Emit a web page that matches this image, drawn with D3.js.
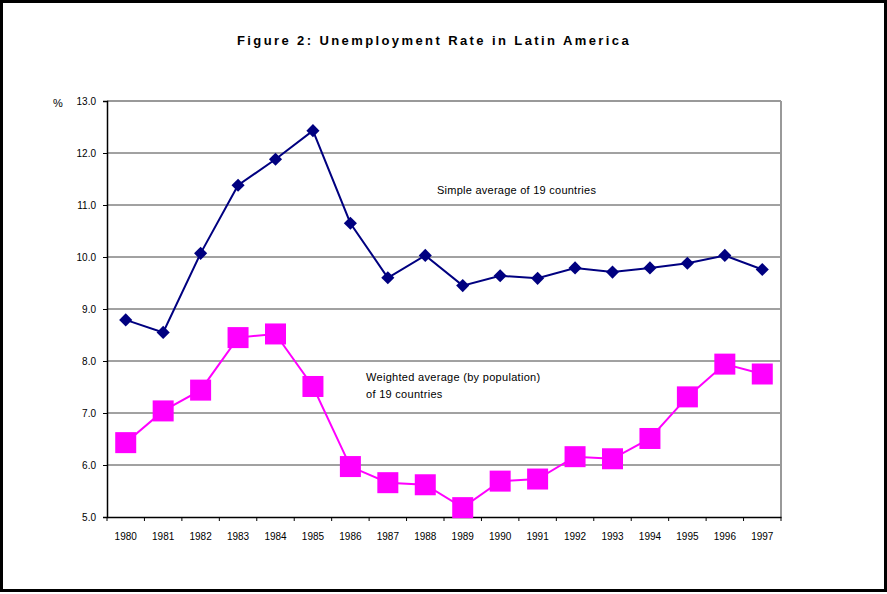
<!DOCTYPE html>
<html>
<head>
<meta charset="utf-8">
<script src="https://cdn.jsdelivr.net/npm/d3@7"></script>
<style>
  body { margin: 0; background: #fff; }
  svg text { font-family: "Liberation Sans", Arial, sans-serif; }
</style>
</head>
<body>
<svg width="887" height="594"></svg>
<script>
var years = ["1980","1981","1982","1983","1984","1985","1986","1987","1988","1989",
             "1990","1991","1992","1993","1994","1995","1996","1997"];
var simpleAvg = [8.79, 8.55, 10.07, 11.38, 11.88, 12.43, 10.65, 9.60, 10.03, 9.45,
                 9.64, 9.59, 9.79, 9.71, 9.79, 9.88, 10.03, 9.76];
var weightedAvg = [6.43, 7.04, 7.44, 8.45, 8.52, 7.51, 5.97, 5.66, 5.62, 5.18,
                   5.69, 5.73, 6.16, 6.12, 6.51, 7.31, 7.94, 7.75];
var yTicks = [5, 6, 7, 8, 9, 10, 11, 12, 13];

var svg = d3.select("svg"),
    width = +svg.attr("width"),
    height = +svg.attr("height");

var plotLeft = 107, plotRight = 781, plotTop = 101, plotBottom = 517;

// outer frame
svg.append("rect")
    .attr("x", 1.5).attr("y", 1.5)
    .attr("width", 884).attr("height", 589)
    .attr("fill", "none").attr("stroke", "#000").attr("stroke-width", 3);

svg.append("text")
    .attr("x", 434).attr("y", 45)
    .attr("text-anchor", "middle")
    .attr("font-size", 13).attr("font-weight", "bold")
    .attr("letter-spacing", 2.4)
    .text("Figure 2: Unemployment Rate in Latin America");

var x = d3.scaleBand().domain(years).range([plotLeft, plotRight]);
var y = d3.scaleLinear().domain([5, 13]).range([plotBottom, plotTop]);

// gridlines
svg.append("g").selectAll("line")
    .data(yTicks.slice(1))
    .enter().append("line")
    .attr("x1", plotLeft).attr("x2", plotRight)
    .attr("y1", d => y(d)).attr("y2", d => y(d))
    .attr("stroke", d => d == 13 ? "#999" : "#444")
    .attr("stroke-width", d => d == 13 ? 2 : 1);

// right border of plot
svg.append("line")
    .attr("x1", plotRight).attr("x2", plotRight)
    .attr("y1", plotTop).attr("y2", plotBottom)
    .attr("stroke", "#999").attr("stroke-width", 2);

// y axis
var yAxis = svg.append("g")
    .attr("transform", "translate(" + plotLeft + ",0)")
    .call(d3.axisLeft(y).tickValues(yTicks).tickFormat(d3.format(".1f")).tickSize(4).tickPadding(7));
yAxis.select(".domain").attr("stroke", "#000").attr("stroke-width", 1.5);
yAxis.selectAll("text").attr("font-size", 10).attr("fill", "#000")
    .attr("font-family", "Liberation Sans, Arial, sans-serif");

svg.append("text")
    .attr("x", 53).attr("y", 107)
    .attr("font-size", 11)
    .text("%");

// x axis
var xAxis = svg.append("g")
    .attr("transform", "translate(0," + plotBottom + ")")
    .call(d3.axisBottom(x).tickSize(0).tickPadding(16));
xAxis.select(".domain").attr("stroke", "#000").attr("stroke-width", 1.5);
xAxis.selectAll("text").attr("font-size", 10).attr("fill", "#000")
    .attr("font-family", "Liberation Sans, Arial, sans-serif");
// ticks between categories
xAxis.selectAll(".sep")
    .data(years.concat(["end"]))
    .enter().append("line")
    .attr("x1", (d, i) => plotLeft + i * x.bandwidth())
    .attr("x2", (d, i) => plotLeft + i * x.bandwidth())
    .attr("y1", 0).attr("y2", 4)
    .attr("stroke", "#000");

var line = d3.line()
    .x((d, i) => x(years[i]) + x.bandwidth() / 2)
    .y(d => y(d));

// weighted series
svg.append("path")
    .datum(weightedAvg)
    .attr("d", line)
    .attr("fill", "none").attr("stroke", "#ff00ff").attr("stroke-width", 2);
svg.append("g").selectAll("rect")
    .data(weightedAvg)
    .enter().append("rect")
    .attr("x", (d, i) => x(years[i]) + x.bandwidth() / 2 - 10.5)
    .attr("y", d => y(d) - 10.5)
    .attr("width", 21).attr("height", 21)
    .attr("fill", "#ff00ff");

// simple series
svg.append("path")
    .datum(simpleAvg)
    .attr("d", line)
    .attr("fill", "none").attr("stroke", "#000080").attr("stroke-width", 2);
svg.append("g").selectAll("path")
    .data(simpleAvg)
    .enter().append("path")
    .attr("d", d3.symbol().type(d3.symbolDiamond2).size(110))
    .attr("transform", (d, i) => "translate(" + (x(years[i]) + x.bandwidth() / 2) + "," + y(d) + ")")
    .attr("fill", "#000080");

// annotations
svg.append("text")
    .attr("x", 437).attr("y", 194)
    .attr("font-size", 11).attr("letter-spacing", 0.25)
    .text("Simple average of  19 countries");

svg.append("text")
    .attr("x", 366).attr("y", 381)
    .attr("font-size", 11).attr("letter-spacing", 0.3)
    .text("Weighted average (by population)");
svg.append("text")
    .attr("x", 366).attr("y", 398)
    .attr("font-size", 11).attr("letter-spacing", 0.3)
    .text("of  19 countries");
</script>
</body>
</html>
